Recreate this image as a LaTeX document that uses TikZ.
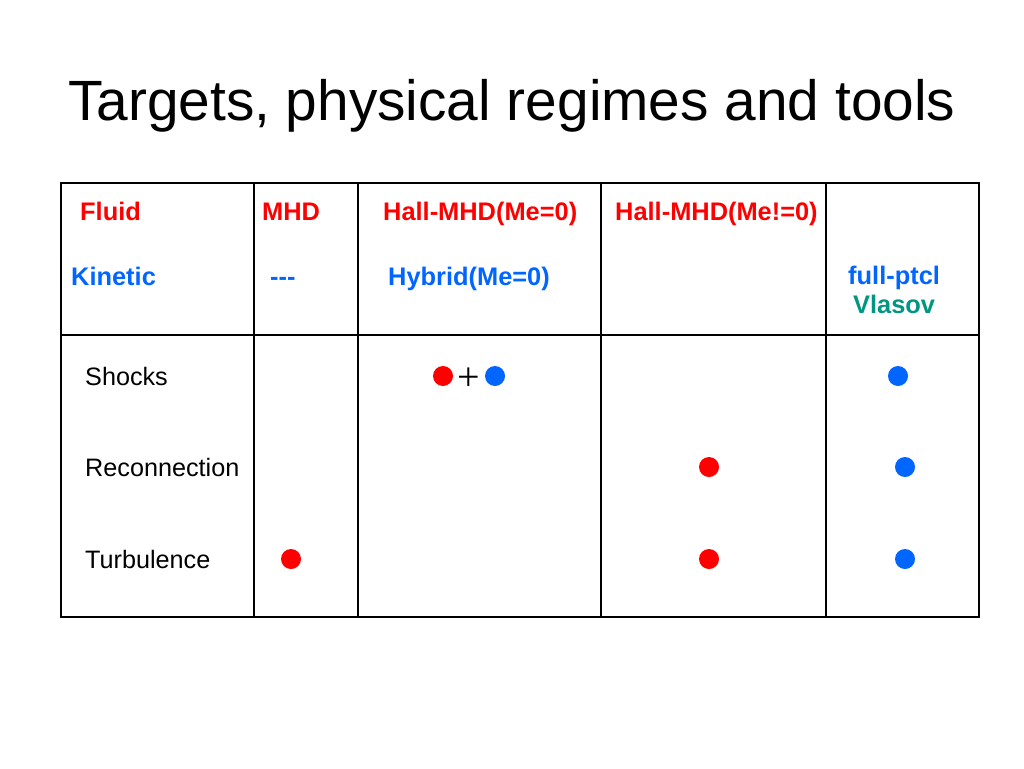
\documentclass[tikz,border=0pt]{standalone}
\usepackage{fontspec}
\setmainfont{Liberation Sans}
\newfontfamily\plusfont{Liberation Serif}
\definecolor{hdred}{RGB}{255,0,0}
\definecolor{hdblue}{RGB}{0,102,255}
\definecolor{hdteal}{RGB}{0,150,130}
\begin{document}
\begin{tikzpicture}[x=1pt,y=-1pt,
  grid/.style={draw=black,line width=1.2pt},
  hdr/.style={anchor=base west,inner sep=0pt,font=\fontsize{25.4}{28}\selectfont\bfseries},
  rowlab/.style={anchor=base west,inner sep=0pt,font=\fontsize{25.2}{28}\selectfont},
  dot/.style={circle,inner sep=0pt,minimum size=20pt},
  reddot/.style={dot,fill=hdred},
  bluedot/.style={dot,fill=hdblue}]
\useasboundingbox[fill=white] (0,0) rectangle (1024,768);
\node[anchor=base west,inner sep=0pt,font=\fontsize{56.8}{60}\selectfont] (title) at (68,120) {Targets, physical regimes and tools};
% table
\draw[grid] (61,183) rectangle (979,617);
\draw[grid] (61,335) -- (979,335);
\foreach \x in {254,358,601,826} \draw[grid] (\x,183) -- (\x,617);
% headers
\node[hdr,text=hdred] (fluid) at (80,220) {Fluid};
\node[hdr,text=hdred] (mhd) at (262,220) {MHD};
\node[hdr,text=hdred] (hall0) at (383,220) {Hall-MHD(Me=0)};
\node[hdr,text=hdred] (hall1) at (615,220) {Hall-MHD(Me!=0)};
\node[hdr,text=hdblue] (kinetic) at (71,285) {Kinetic};
\node[hdr,text=hdblue] (dash) at (270,285) {{-}{-}{-}};
\node[hdr,text=hdblue] (hybrid) at (388,285) {Hybrid(Me=0)};
\node[hdr,text=hdblue] (fullp) at (848,284) {full-ptcl};
\node[hdr,text=hdteal] (vlasov) at (853,313) {Vlasov};
% row labels
\node[rowlab] (shocks) at (85,385) {Shocks};
\node[rowlab] (recon) at (85,476) {Reconnection};
\node[rowlab] (turb) at (85,568) {Turbulence};
% dots
\node[reddot] (s1) at (443,376) {};
\node[inner sep=0pt,font=\plusfont\fontsize{40}{42}\selectfont] (plus) at (469,379) {+};
\node[bluedot] (s2) at (495,376) {};
\node[bluedot] (s3) at (898,376) {};
\node[reddot] (r1) at (709,467) {};
\node[bluedot] (r2) at (905,467) {};
\node[reddot] (t1) at (291,559) {};
\node[reddot] (t2) at (709,559) {};
\node[bluedot] (t3) at (905,559) {};
\end{tikzpicture}
\end{document}
